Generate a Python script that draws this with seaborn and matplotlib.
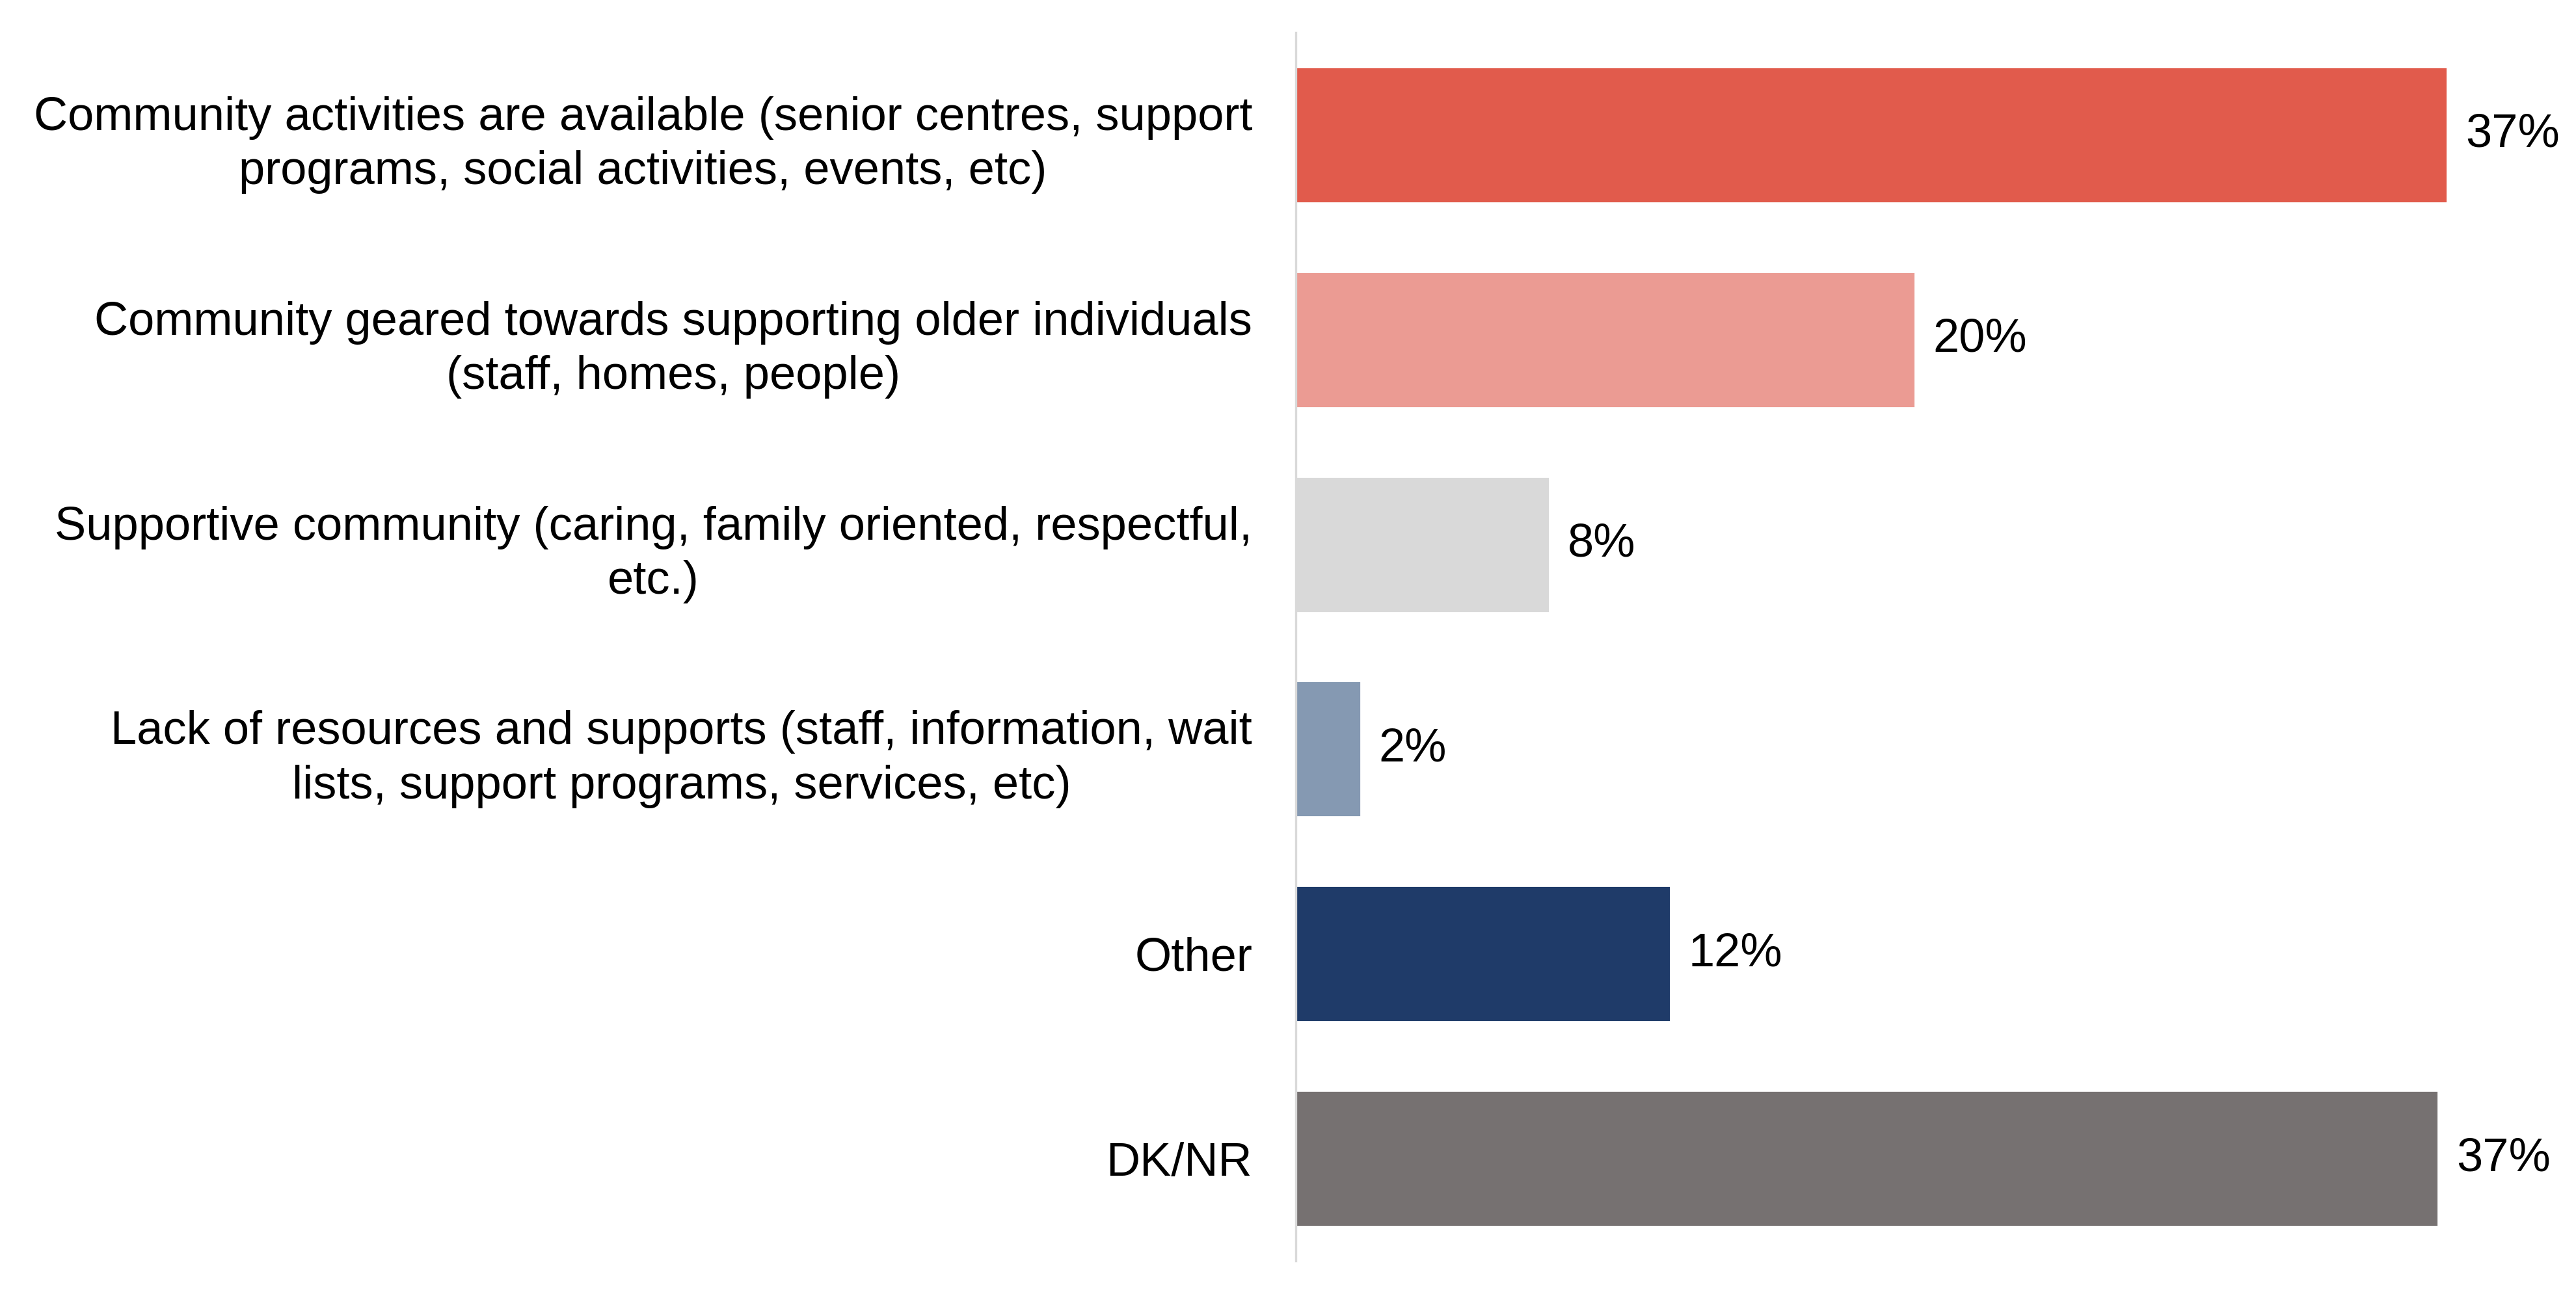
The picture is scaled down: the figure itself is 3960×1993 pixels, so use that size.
import matplotlib
matplotlib.use("Agg")
import matplotlib.pyplot as plt
import seaborn as sns
import pandas as pd

# Responses (top to bottom) and share of respondents (%)
categories = [
    "Community activities are available (senior centres, support\nprograms, social activities, events, etc)",
    "Community geared towards supporting older individuals\n(staff, homes, people)",
    "Supportive community (caring, family oriented, respectful,\netc.)",
    "Lack of resources and supports (staff, information, wait\nlists, support programs, services, etc)",
    "Other",
    "DK/NR",
]
values = [37.2, 20.0, 8.2, 2.1, 12.1, 36.9]
bar_colors = ["#E15B4C", "#EB9B93", "#D9D9D9", "#8599B2", "#1F3B69", "#767171"]

df = pd.DataFrame({"category": categories, "value": values})

sns.set_style("white")
plt.rcParams["font.family"] = ["Liberation Sans", "DejaVu Sans"]
plt.rcParams["text.color"] = "black"
plt.rcParams["ytick.color"] = "black"

fig = plt.figure(figsize=(19.8, 9.965), dpi=200)
ax = fig.add_axes([0.503, 0.027, 0.497, 0.948])

sns.barplot(data=df, x="value", y="category", hue="category",
            palette=bar_colors, legend=False, width=0.664,
            saturation=1, ax=ax)

for cont in ax.containers:
    ax.bar_label(cont, labels=[f"{round(v)}%" for v in cont.datavalues],
                 padding=10, fontsize=26, color="black")

ax.set_xlim(0, 41.35)
ax.set_ylim(5.5, -0.5)
ax.set_xlabel("")
ax.set_ylabel("")
ax.set_xticks([])
ax.tick_params(axis="y", length=0, pad=24, labelsize=26, labelcolor="black")
for lab in ax.get_yticklabels():
    lab.set_multialignment("center")
    lab.set_linespacing(1.32)

for side in ["top", "right", "bottom"]:
    ax.spines[side].set_visible(False)
ax.spines["left"].set_color("#D9D9D9")
ax.spines["left"].set_linewidth(1.2)

fig.savefig("out.png", dpi=200, facecolor="white")
